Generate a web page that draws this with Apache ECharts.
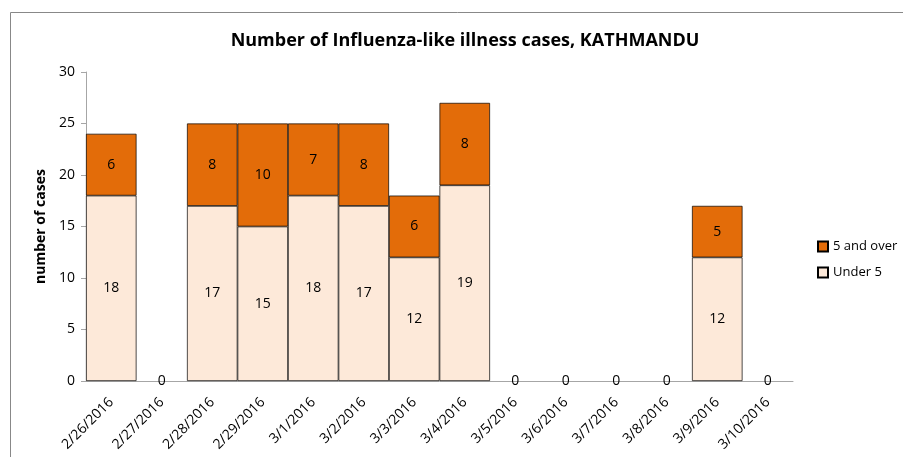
<!DOCTYPE html>
<html>
<head>
<meta charset="utf-8">
<title>Influenza-like illness cases, KATHMANDU</title>
<script src="https://cdn.jsdelivr.net/npm/echarts@6/dist/echarts.min.js"></script>
<style>
  html, body { margin: 0; padding: 0; background: #fff; }
  #chart { width: 903px; height: 457px; }
</style>
</head>
<body>
<div id="chart"></div>
<script>
var dates = ["2/26/2016", "2/27/2016", "2/28/2016", "2/29/2016", "3/1/2016", "3/2/2016", "3/3/2016",
  "3/4/2016", "3/5/2016", "3/6/2016", "3/7/2016", "3/8/2016", "3/9/2016", "3/10/2016"];
var under5 = [18, 0, 17, 15, 18, 17, 12, 19, 0, 0, 0, 0, 12, 0];
var over5 = [6, 0, 8, 10, 7, 8, 6, 8, 0, 0, 0, 0, 5, 0];

var font = "'Open Sans', 'Noto Sans', sans-serif";

// zero-height bars would still draw their black outline on the axis
function toItems(arr) {
  return arr.map(function (v) {
    return v === 0 ? { value: 0, itemStyle: { borderWidth: 0, opacity: 0 } } : v;
  });
}

var myChart = echarts.init(document.getElementById("chart"));

var option = {
  animation: false,
  textStyle: { fontFamily: font, color: "#000" },
  title: {
    text: "Number of Influenza-like illness cases, KATHMANDU",
    left: 460,
    top: 27,
    textAlign: "center",
    textStyle: { fontSize: 18, fontWeight: "bold", fontFamily: font, color: "#000" }
  },
  graphic: [{
    type: "rect",
    shape: { x: 10.5, y: 12.5, width: 1000, height: 1000 },
    style: { fill: "none", stroke: "#888", lineWidth: 1 },
    silent: true
  }],
  legend: {
    orient: "vertical",
    left: 812,
    top: 235,
    icon: "rect",
    itemWidth: 10,
    itemHeight: 10,
    itemGap: 13,
    data: ["5 and over", "Under 5"],
    textStyle: { fontSize: 13, fontFamily: font, color: "#000" }
  },
  grid: { left: 86, right: 110, top: 72, bottom: 76 },
  xAxis: {
    type: "category",
    data: dates,
    axisLine: { lineStyle: { color: "#a6a6a6" } },
    axisTick: { lineStyle: { color: "#a6a6a6" }, length: 5 },
    axisLabel: { rotate: 45, fontSize: 14, color: "#000", interval: 0, margin: 19 }
  },
  yAxis: {
    type: "value",
    min: 0,
    max: 30,
    interval: 5,
    name: "number of cases",
    nameLocation: "middle",
    nameGap: 38,
    nameTextStyle: { fontSize: 14, fontWeight: "bold", color: "#000" },
    axisLine: { show: true, lineStyle: { color: "#a6a6a6" } },
    axisTick: { show: true, lineStyle: { color: "#a6a6a6" }, length: 5 },
    axisLabel: { fontSize: 14, color: "#000", margin: 11 },
    splitLine: { show: false }
  },
  series: [
    {
      name: "Under 5",
      type: "bar",
      stack: "total",
      barCategoryGap: 0,
      data: toItems(under5),
      itemStyle: { color: "#fde9d9", borderColor: "#000", borderWidth: 0.7 },
      label: { show: true, position: "inside", fontSize: 14, color: "#000", opacity: 1 }
    },
    {
      name: "5 and over",
      type: "bar",
      stack: "total",
      barCategoryGap: 0,
      data: toItems(over5),
      itemStyle: { color: "#e36c09", borderColor: "#000", borderWidth: 0.7 },
      label: {
        show: true,
        position: "inside",
        fontSize: 14,
        color: "#000",
        formatter: function (p) { return p.value ? p.value : ""; }
      }
    }
  ]
};
myChart.setOption(option);
</script>
</body>
</html>
